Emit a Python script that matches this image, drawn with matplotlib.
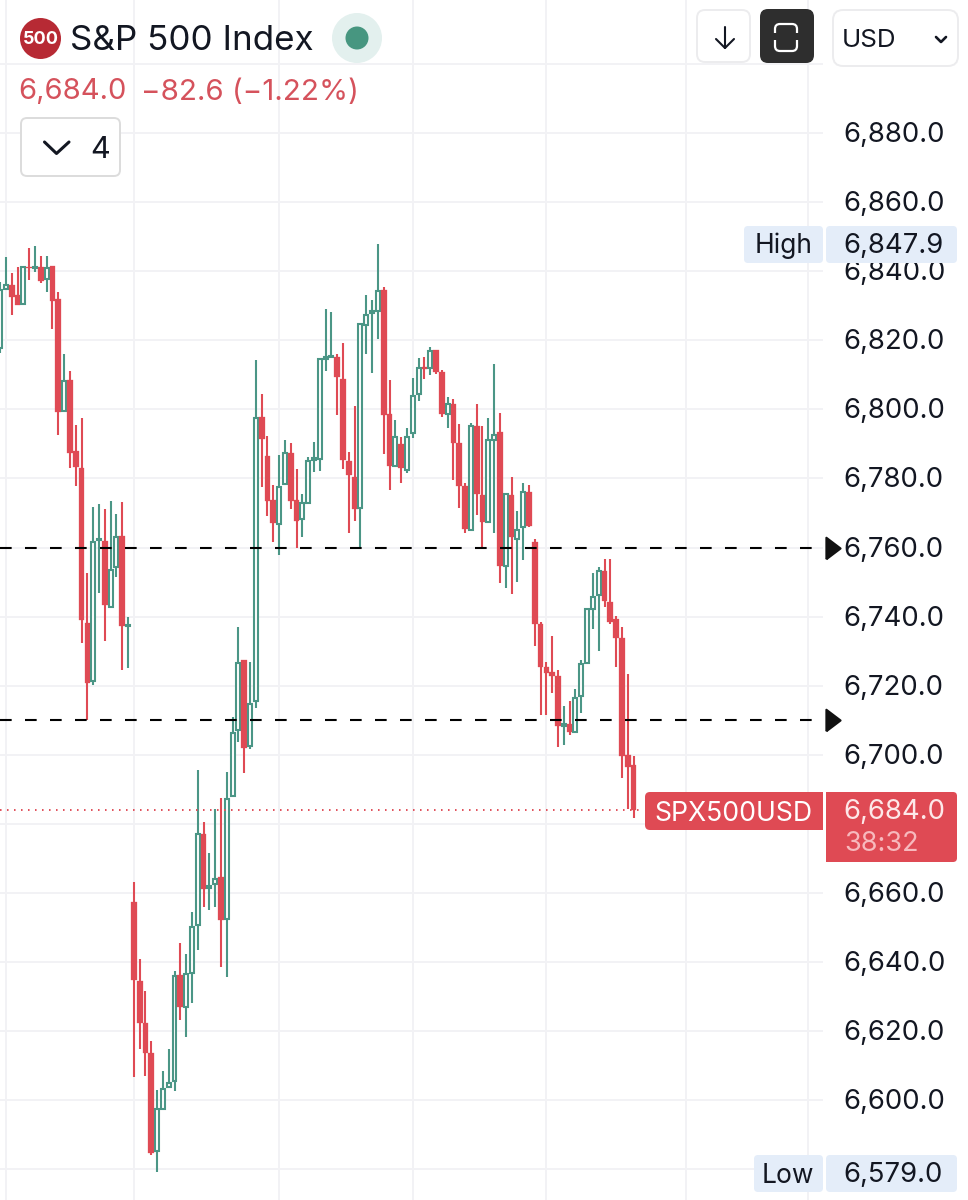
import matplotlib
matplotlib.use("Agg")
import matplotlib.pyplot as plt
from matplotlib.patches import FancyBboxPatch, Circle, Rectangle
from matplotlib.transforms import ScaledTranslation

plt.rcParams['font.family'] = ['Inter', 'DejaVu Sans']

opens = [6817.8,6834.9,6836.0,6833.2,6830.5,6841.4,6841.1,6841.4,6837.8,6841.6,
6831.9,6799.5,6808.5,6787.9,6783.0,6738.1,6721.3,6762.2,6761.9,6742.8,
6754.4,6763.4,6737.3,6657.3,6634.4,6622.2,6613.5,6585.2,6597.4,6603.8,
6605.4,6636.2,6626.9,6636.8,6650.7,6677.0,6661.4,6662.5,6664.5,6652.4,
6688.0,6707.1,6727.4,6702.5,6715.5,6797.8,6786.5,6773.8,6766.8,6778.4,
6787.4,6773.8,6768.3,6772.9,6785.3,6785.6,6814.6,6815.2,6815.2,6808.8,
6785.0,6780.3,6771.5,6824.4,6827.9,6828.5,6834.6,6798.6,6783.6,6790.0,
6782.4,6793.1,6804.5,6812.3,6812.0,6817.3,6810.9,6798.6,6801.5,6790.2,
6777.8,6765.1,6795.2,6775.2,6767.4,6791.1,6793.4,6754.7,6775.2,6762.5,
6766.0,6776.1,6761.6,6737.8,6725.3,6724.0,6722.8,6708.3,6708.8,6706.5,
6716.9,6726.5,6742.2,6746.3,6753.2,6744.2,6739.3,6733.8,6699.9,6697.0]

highs = [6836.9,6844.2,6839.6,6841.4,6841.6,6846.8,6847.4,6844.5,6844.5,6841.6,
6834.0,6816.0,6811.0,6795.4,6797.5,6752.6,6771.8,6772.6,6771.2,6773.5,
6769.7,6773.2,6739.9,6663.1,6640.8,6631.5,6617.0,6602.9,6608.4,6614.7,
6637.3,6645.4,6642.2,6654.4,6695.5,6680.5,6671.5,6684.3,6687.4,6694.9,
6710.9,6737.0,6727.4,6726.8,6814.3,6804.5,6792.3,6778.1,6786.8,6791.1,
6790.2,6782.7,6775.5,6786.2,6790.5,6814.9,6829.1,6828.2,6816.0,6819.2,
6787.6,6801.0,6824.7,6833.1,6831.7,6847.9,6835.4,6808.5,6796.9,6792.0,
6794.6,6809.0,6814.9,6815.2,6818.1,6817.3,6811.5,6803.6,6803.0,6795.7,
6778.7,6796.0,6801.5,6795.2,6797.5,6813.1,6798.9,6775.8,6780.4,6770.6,
6778.7,6778.1,6762.5,6738.4,6726.8,6734.4,6724.6,6714.1,6715.5,6719.0,
6727.4,6742.5,6752.6,6754.3,6756.7,6756.7,6740.2,6737.0,6723.3,6699.6]

lows = [6816.3,6834.6,6827.3,6830.2,6830.5,6837.5,6839.9,6836.6,6834.0,6823.3,
6792.5,6799.2,6783.1,6777.8,6732.3,6710.0,6720.2,6746.8,6732.9,6742.8,
6751.5,6724.6,6725.1,6606.6,6614.7,6606.9,6584.0,6579.0,6597.1,6603.5,
6602.6,6623.1,6618.2,6628.0,6643.4,6655.9,6655.0,6655.9,6638.4,6635.6,
6688.0,6703.6,6694.7,6701.6,6713.5,6777.5,6769.1,6761.6,6757.9,6778.1,
6771.2,6759.9,6763.1,6772.6,6781.8,6782.1,6811.1,6814.9,6798.3,6782.7,
6764.2,6767.7,6760.2,6816.0,6810.5,6820.4,6787.1,6776.6,6783.3,6778.6,
6781.5,6791.7,6802.4,6808.8,6810.0,6810.3,6797.8,6794.6,6779.5,6771.5,
6764.2,6764.8,6769.4,6760.2,6767.1,6764.2,6749.8,6748.3,6746.6,6750.1,
6756.4,6766.0,6731.5,6711.5,6711.5,6717.8,6702.2,6702.8,6705.6,6706.2,
6712.0,6726.2,6736.4,6730.0,6742.8,6737.8,6725.3,6693.2,6684.2,6681.6]

closes = [6834.6,6836.0,6832.6,6830.2,6841.4,6841.1,6841.4,6837.2,6841.1,6831.4,
6799.2,6808.2,6787.4,6783.2,6739.0,6720.8,6761.6,6762.5,6743.3,6753.5,
6763.1,6737.3,6737.6,6634.7,6622.2,6613.5,6584.6,6597.4,6603.2,6604.9,
6635.9,6626.9,6636.4,6650.1,6677.0,6661.1,6661.9,6663.9,6652.1,6687.2,
6706.2,6726.5,6701.9,6714.6,6797.5,6791.4,6773.5,6767.1,6777.5,6787.4,
6773.5,6767.7,6772.9,6785.0,6785.9,6814.6,6815.2,6815.5,6809.4,6785.3,
6780.9,6771.2,6824.7,6827.3,6828.5,6834.3,6798.3,6783.6,6792.0,6783.0,
6792.0,6803.8,6812.0,6811.7,6817.0,6810.9,6798.6,6801.5,6790.2,6777.8,
6765.4,6795.2,6775.5,6767.4,6791.1,6792.6,6754.7,6775.5,6763.1,6765.1,
6776.1,6766.3,6737.8,6725.3,6723.6,6722.8,6708.3,6708.8,6706.5,6716.4,
6726.2,6742.2,6745.7,6753.2,6744.5,6738.4,6733.8,6699.6,6696.4,6684.0]

price_ticks = [6880, 6860, 6840, 6820, 6800, 6780, 6760, 6740, 6720, 6700, 6660, 6640, 6620, 6600]
extra_grid = [6900, 6680, 6580]
time_grid = [1, 23, 48, 71, 94, 118, 139]
level_lines = [6760, 6710]

RED = '#df4a54'
GREEN = '#4b9686'
GRID = '#f2f2f5'
INK = '#131722'

W, H = 968, 1200
fig = plt.figure(figsize=(W / 100, H / 100), dpi=100, facecolor='white')

# chart pane: 823 px wide, full height
ax = fig.add_axes([0, 0, 823 / W, 1])
ax.set_xlim(-0.034, 141.6)
ax.set_ylim(6570.99, 6918.6)
for s in ax.spines.values():
    s.set_visible(False)
ax.set_axisbelow(True)
ax.xaxis.set_ticks(time_grid)
ax.tick_params(axis='x', length=0, labelbottom=False)
ax.yaxis.tick_right()
ax.set_yticks(price_ticks)
ax.set_yticklabels([f"{p:,.1f}" for p in price_ticks])
ax.set_yticks(extra_grid, minor=True)
ax.tick_params(axis='y', which='both', length=0, pad=14.4, labelsize=19.8, labelcolor=INK)
ax.grid(True, which='both', color=GRID, lw=1.4)
up_one = ScaledTranslation(0, 1 / 100, fig.dpi_scale_trans)
for lab in ax.get_yticklabels():
    lab.set_transform(lab.get_transform() + up_one)

n = len(opens)
for i in range(n):
    up = closes[i] >= opens[i]
    col = GREEN if up else RED
    ax.vlines(i, lows[i], highs[i], color=col, lw=1.5, zorder=3, capstyle='butt')
    bottom = min(opens[i], closes[i])
    height = max(abs(closes[i] - opens[i]), 0.25)
    if up:
        ax.bar(i, height, width=0.68, bottom=bottom, facecolor='white', edgecolor=col, lw=1.5, zorder=4)
    else:
        ax.bar(i, height, width=0.98, bottom=bottom, facecolor=col, edgecolor=col, lw=0.2, zorder=4)

last = closes[-1]
ax.axhline(last, xmax=643 / 823, color='#e0505a', lw=1.4, ls=(0, (0.8, 2.8)), zorder=5)
tri = [(-0.33, -0.5), (0.33, 0), (-0.33, 0.5), (-0.33, -0.5)]
for lv in level_lines:
    ax.axhline(lv, color='black', lw=1.5, ls=(0, (5.6, 6.4)), zorder=6)
    ax.plot([143.3], [lv], marker=tri, ms=15.5, clip_on=False, zorder=7,
            markeredgewidth=1.5, markeredgecolor='#111111', markerfacecolor='#111111',
            ls='none')

# interface overlay in figure pixels
ui = fig.add_axes([0, 0, 1, 1], facecolor='none')
ui.set_xlim(0, W)
ui.set_ylim(H, 0)
ui.axis('off')


def box(x0, y0, x1, y1, r=5, fc='white', ec='none', lw=1.0):
    ui.add_patch(FancyBboxPatch((x0 + r, y0 + r), x1 - x0 - 2 * r, y1 - y0 - 2 * r,
                                boxstyle=f"round,pad={r},rounding_size={r}", fc=fc, ec=ec, lw=lw))


# header
ui.add_patch(Circle((40.5, 38.5), 20.5, fc='#b72a34', ec='none'))
ui.text(40.5, 39.5, "500", color='white', fontsize=13, fontweight='bold', ha='center', va='center')
ui.text(70.5, 41.5, "S&P 500 Index", color=INK, fontsize=25.2, ha='left', va='center')
ui.add_patch(Circle((357, 38), 25, fc='#e3f0ee', ec='none'))
ui.add_patch(Circle((357, 38), 11.5, fc='#479680', ec='none'))
ui.text(18, 92, f"{last:,.1f}", color='#d5525c', fontsize=21, ha='left', va='center')
ui.text(141, 92, "\u221282.6 (\u22121.22%)", color='#d5525c', fontsize=21.3, ha='left', va='center')

box(21, 118, 120, 176, r=6, fc='white', ec='#dcdcdc', lw=1.4)
ui.plot([44.5, 56.5, 69], [142, 153.5, 142], color=INK, lw=2.2, solid_capstyle='round', solid_joinstyle='round')
ui.text(100, 149.5, "4", color=INK, fontsize=22, ha='center', va='center')

# top-right buttons
box(697, 10, 750, 62, r=8, fc='white', ec='#ececee', lw=1.4)
ui.plot([725, 725], [27, 48], color=INK, lw=1.5, solid_capstyle='round')
ui.plot([716, 725, 734], [39, 48, 39], color=INK, lw=1.5, solid_capstyle='round', solid_joinstyle='round')
box(760, 9, 814, 63, r=8, fc='#2e2e2e')
ui.add_patch(FancyBboxPatch((781, 30), 10, 15, boxstyle="round,pad=6,rounding_size=5", fc='none', ec='white', lw=1.6))
ui.add_patch(Rectangle((772, 33), 30, 7, fc='#2e2e2e', ec='none'))
box(833, 10, 958, 66, r=10, fc='white', ec='#ececee', lw=1.4)
ui.text(842, 40.5, "USD", color=INK, fontsize=18.7, ha='left', va='center')
ui.plot([936, 941, 946], [37, 42, 37], color=INK, lw=1.9, solid_capstyle='round', solid_joinstyle='round')

# high / low badges
badge = '#e4edf9'
box(744, 226, 823, 263, r=4, fc=badge)
box(826, 226, 957, 263, r=4, fc=badge)
ui.text(784, 246, "High", color=INK, fontsize=19, ha='center', va='center')
ui.text(843.5, 246, f"{max(highs):,.1f}", color=INK, fontsize=19.8, ha='left', va='center')
box(754, 1155, 823, 1192, r=4, fc=badge)
box(826, 1155, 957, 1192, r=4, fc=badge)
ui.text(788, 1176, "Low", color=INK, fontsize=19, ha='center', va='center')
ui.text(843.5, 1175, f"{min(lows):,.1f}", color=INK, fontsize=19.8, ha='left', va='center')

# last price badges
box(645, 792, 823, 830, r=5, fc=RED)
ui.add_patch(Rectangle((810, 792), 13, 38, fc=RED, ec='none'))
ui.text(734, 814, "SPX500USD", color='white', fontsize=19.2, ha='center', va='center')
box(826, 792, 957, 862, r=4, fc=RED)
ui.add_patch(Rectangle((826, 792), 10, 70, fc=RED, ec='none'))
ui.text(843.5, 812, f"{last:,.1f}", color='#fde8e9', fontsize=19.8, ha='left', va='center')
ui.text(844.5, 844, "38:32", color='#f7b9bd', fontsize=19.5, ha='left', va='center')

fig.savefig("out.png", dpi=100, facecolor='white')
